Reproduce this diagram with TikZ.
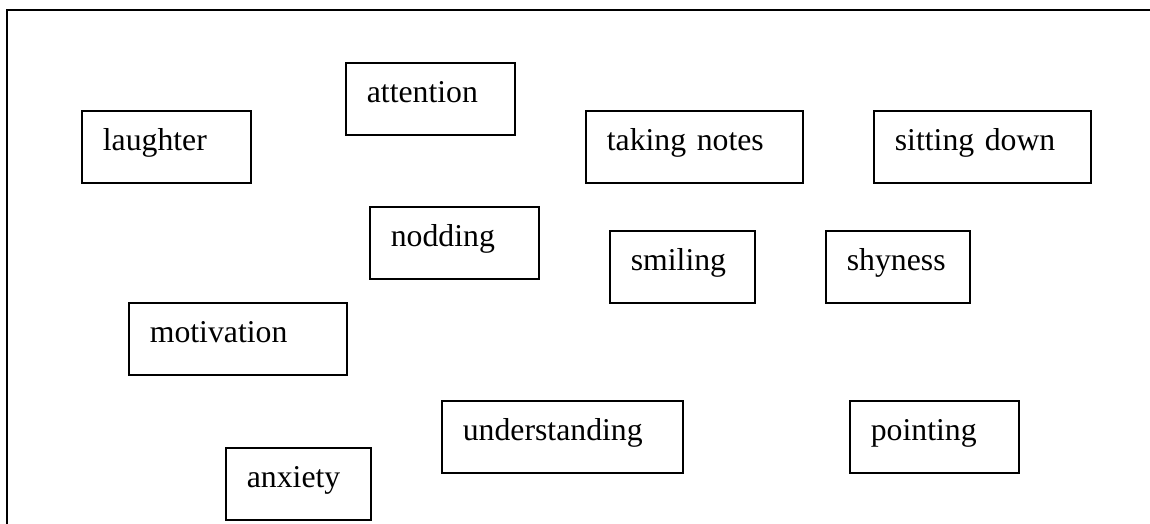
\documentclass[tikz,border=0pt]{standalone}
\usepackage{fontspec}
\setmainfont{Liberation Serif}
\begin{document}
\begin{tikzpicture}[x=0.75pt,y=-0.75pt,
  box/.style={draw, line width=1.3pt, anchor=north west, inner xsep=15.75pt, inner ysep=0pt,
    text height=30pt, text depth=24pt, align=left, font=\fontsize{23.8}{28}\selectfont},
  frame/.style={line width=1.8pt}]
\useasboundingbox (0,0) rectangle (1150,524);
\coordinate (fa) at (7,524);
\coordinate (fb) at (7,10);
\coordinate (fc) at (1150,10);
\draw[frame] (fa) -- (fb) -- (fc);
\node[box, text width=127*0.75pt] (laughter) at (81,110) {laughter};
\node[box, text width=127*0.75pt] (attention) at (345,62) {attention};
\node[box, text width=175*0.75pt] (taking) at (585,110) {taking notes};
\node[box, text width=175*0.75pt] (sitting) at (873,110) {sitting down};
\node[box, text width=127*0.75pt] (nodding) at (369,206) {nodding};
\node[box, text width=103*0.75pt] (smiling) at (609,230) {smiling};
\node[box, text width=102*0.75pt] (shyness) at (825,230) {shyness};
\node[box, text width=176*0.75pt] (motivation) at (128,302) {motivation};
\node[box, text width=199*0.75pt] (understanding) at (441,400) {understanding};
\node[box, text width=127*0.75pt] (pointing) at (849,400) {pointing};
\node[box, text width=103*0.75pt] (anxiety) at (225,447) {anxiety};
\end{tikzpicture}
\end{document}
